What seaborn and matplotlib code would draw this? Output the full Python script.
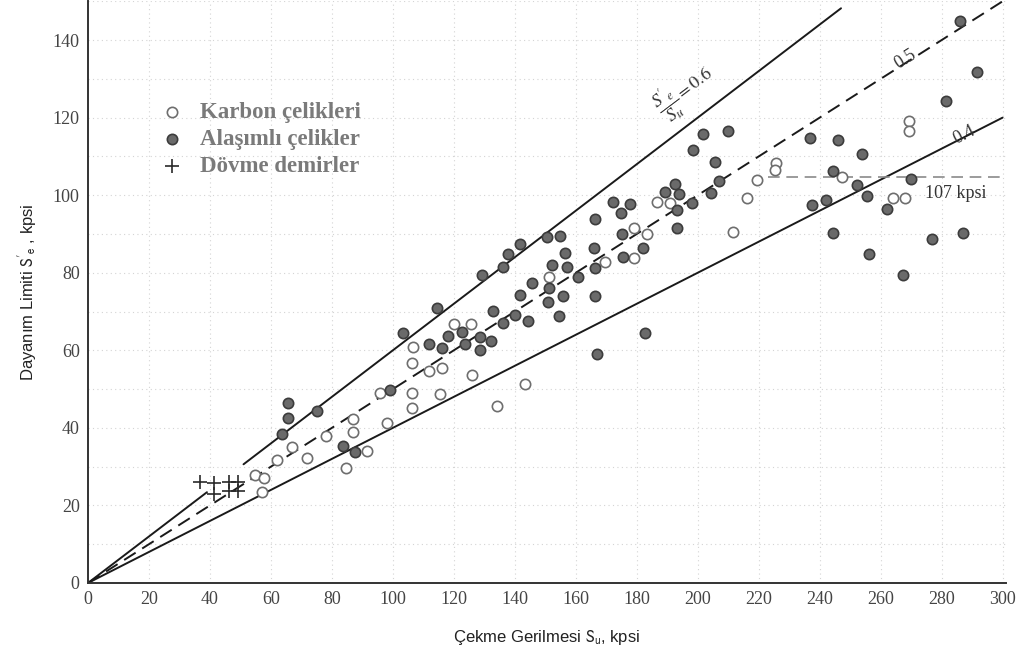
import numpy as np
import pandas as pd
import matplotlib
matplotlib.use("Agg")
import matplotlib.pyplot as plt
import seaborn as sns

# ---------------- data ----------------
karbon_su = [54.8, 57.7, 57.0, 62.0, 66.9, 71.8, 78.0, 86.9, 86.9, 84.6, 91.5, 95.7, 98.0,
             106.2, 106.2, 106.6, 106.2, 115.4, 111.8, 116.1, 125.9, 120.0, 125.6, 134.1,
             143.3, 151.1, 169.5, 179.0, 179.0, 183.3, 186.6, 190.8, 211.5, 216.1, 219.3,
             225.6, 225.2, 247.2, 263.9, 267.9, 269.2, 269.2]
karbon_se = [27.8, 27.1, 23.5, 31.7, 35.1, 32.2, 37.9, 42.3, 38.9, 29.6, 34.0, 49.0, 41.2,
             49.0, 45.1, 60.8, 56.7, 48.7, 54.6, 55.4, 53.6, 66.8, 66.8, 45.6,
             51.3, 78.9, 82.7, 83.8, 91.5, 89.9, 98.2, 97.9, 90.5, 99.2, 103.9,
             108.2, 106.4, 104.6, 99.2, 99.2, 119.1, 116.5]

alasimli_su = [63.6, 65.6, 65.6, 75.1, 83.6, 87.5, 99.0, 103.3, 114.4, 111.8, 116.1, 118.0,
               122.6, 123.6, 128.5, 132.1, 128.5, 129.2, 132.8, 136.1, 140.0, 144.3, 136.1,
               137.7, 141.6, 150.5, 154.8, 141.6, 145.6, 151.1, 152.1, 156.4, 157.0, 155.7,
               150.8, 154.4, 160.7, 166.2, 165.9, 166.2, 166.2, 166.9, 172.1, 177.7, 174.8,
               175.1, 175.4, 182.0, 182.6, 189.2, 192.5, 193.8, 193.1, 198.0, 193.1, 198.4,
               201.6, 209.8, 205.6, 206.9, 204.3, 236.7, 245.9, 244.3, 253.8, 252.1, 255.4,
               237.4, 242.0, 262.0, 269.8, 244.3, 256.1, 267.2, 276.7, 286.9, 281.6, 285.9,
               291.5]
alasimli_se = [38.4, 46.4, 42.5, 44.3, 35.3, 33.8, 49.7, 64.4, 70.9, 61.6, 60.6, 63.7,
               64.7, 61.6, 63.4, 62.4, 60.1, 79.4, 70.1, 67.0, 69.1, 67.5, 81.4,
               84.8, 87.4, 89.2, 89.4, 74.2, 77.3, 76.0, 82.0, 85.1, 81.4, 74.0,
               72.4, 68.8, 78.9, 93.8, 86.3, 81.2, 74.0, 59.0, 98.2, 97.7, 95.4,
               89.9, 84.0, 86.3, 64.4, 100.8, 102.8, 100.3, 96.1, 97.9, 91.5, 111.6,
               115.7, 116.5, 108.5, 103.6, 100.5, 114.7, 114.2, 106.2, 110.6, 102.6, 99.7,
               97.4, 98.7, 96.4, 104.1, 90.2, 84.8, 79.4, 88.7, 90.2, 124.2, 144.8,
               131.7]

dovme_su = [36.7, 41.3, 41.3, 46.2, 49.2, 46.2, 49.2]
dovme_se = [26.0, 25.8, 22.9, 26.0, 26.0, 23.7, 23.7]

oranlar = [0.6, 0.5, 0.4]
limit_kpsi = 107
limit_cizgi_se = 104.8      # where the horizontal limit line sits in the drawing
x_ticks = list(range(0, 301, 20))
y_ticks = list(range(0, 141, 20))

etiketler = ["Karbon çelikleri", "Alaşımlı çelikler", "Dövme demirler"]

df = pd.DataFrame({
    "Su": karbon_su + alasimli_su + dovme_su,
    "Se": karbon_se + alasimli_se + dovme_se,
    "tur": [etiketler[0]] * len(karbon_su) + [etiketler[1]] * len(alasimli_su)
           + [etiketler[2]] * len(dovme_su),
})

# ---------------- figure ----------------
sns.set_style("white")
plt.rcParams["font.family"] = ["Liberation Serif", "DejaVu Serif"]

fig = plt.figure(figsize=(10.31, 6.55), dpi=100)
ax = fig.add_axes([0.0854, 0.110, 0.890, 0.888])

# faint dotted grid like the scanned paper
for xv in range(20, 301, 20):
    ax.axvline(xv, color="#d4d4d4", lw=0.8, ls=(0, (1, 3)), zorder=0)
for yv in range(10, 151, 10):
    ax.axhline(yv, color="#d4d4d4", lw=0.8, ls=(0, (1, 3)), zorder=0)

# ratio lines
su_line = np.array([0.0, 39.0, np.nan, 51.0, 247.0])
ax.plot(su_line, oranlar[0] * su_line, color="#1a1a1a", lw=1.4, zorder=2)
su_full = np.array([0.0, 300.0])
ax.plot(su_full, oranlar[1] * su_full, color="#1a1a1a", lw=1.4,
        dashes=(7, 4), zorder=2)
ax.plot(su_full, oranlar[2] * su_full, color="#1a1a1a", lw=1.4, zorder=2)
ax.plot([223, 302], [limit_cizgi_se, limit_cizgi_se], color="#8a8a8a", lw=1.2,
        dashes=(7, 4), zorder=2)

# points
sub = df[df.tur == etiketler[0]]
sns.scatterplot(data=sub, x="Su", y="Se", ax=ax, marker="o", s=55,
                facecolor="white", edgecolor="#6e6e6e", linewidth=1.2,
                label=etiketler[0], zorder=3)
sub = df[df.tur == etiketler[1]]
sns.scatterplot(data=sub, x="Su", y="Se", ax=ax, marker="o", s=55,
                color="#6a6a6a", edgecolor="#3c3c3c", linewidth=1.2,
                label=etiketler[1], zorder=3)
sub = df[df.tur == etiketler[2]]
sns.scatterplot(data=sub, x="Su", y="Se", ax=ax, marker="+", s=110,
                color="#2a2a2a", linewidth=1.2,
                label=etiketler[2], zorder=3)

# line labels
ax.text(196, 126.5, r"$\dfrac{S'_e}{S_u} = 0.6$", rotation=37, ha="center", va="center",
        fontsize=13, color="#333333", math_fontfamily="stix")
ax.text(268, 135, f"{oranlar[1]}", rotation=32, ha="center", va="center",
        fontsize=13, color="#333333")
ax.text(287.5, 115.5, f"{oranlar[2]}", rotation=27, ha="center", va="center",
        fontsize=13, color="#333333")
ax.text(274.5, 100.5, f"{limit_kpsi} kpsi", ha="left", va="center",
        fontsize=13, color="#333333")

# axes
ax.set_xlim(0, 301)
ax.set_ylim(0, 150)
ax.set_xticks(x_ticks)
ax.set_yticks(y_ticks)
ax.tick_params(axis="both", length=0, labelsize=13, labelcolor="#444444", pad=6)
for lab in ax.get_xticklabels() + ax.get_yticklabels():
    lab.set_family(["Liberation Serif", "DejaVu Serif"])
for s in ["top", "right"]:
    ax.spines[s].set_visible(False)
for s in ["left", "bottom"]:
    ax.spines[s].set_color("#333333")
    ax.spines[s].set_linewidth(1.4)

ax.set_xlabel(r"Çekme Gerilmesi $\mathrm{S_u}$, kpsi", fontsize=12,
              family=["Liberation Sans Narrow", "Liberation Sans", "DejaVu Sans"],
              color="#222222", labelpad=14, math_fontfamily="stixsans")
ax.set_ylabel(r"Dayanım Limiti $\mathrm{S'_e}$ , kpsi", fontsize=12,
              family=["Liberation Sans", "DejaVu Sans"], color="#222222", labelpad=10,
              math_fontfamily="stixsans")

leg = ax.legend(loc="upper left", bbox_to_anchor=(0.056, 0.842), frameon=False,
                handletextpad=0.25, labelspacing=0.25, borderaxespad=0,
                prop={"family": "Liberation Serif", "weight": "bold", "size": 16.5})
for t in leg.get_texts():
    t.set_color("#7a7a7a")

fig.savefig("out.png", dpi=100, facecolor="white")
